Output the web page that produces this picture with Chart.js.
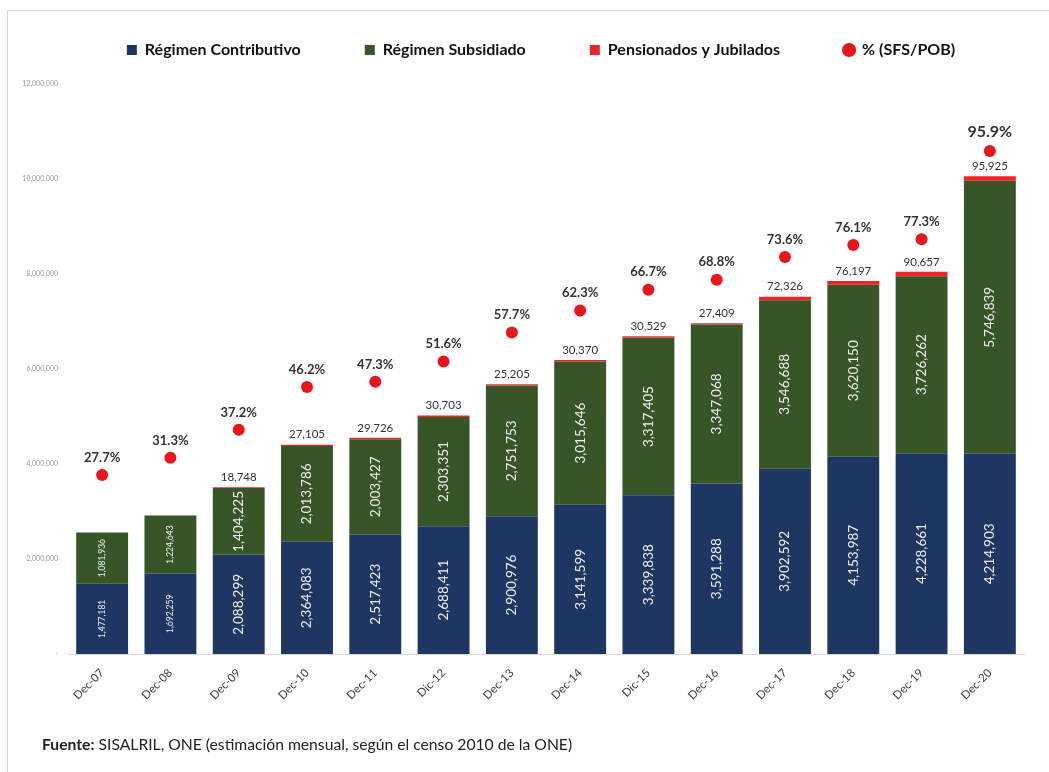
<!DOCTYPE html>
<html><head><meta charset="utf-8">
<script src="https://cdn.jsdelivr.net/npm/chart.js@4.4.1/dist/chart.umd.min.js"></script>
<style>
html,body{margin:0;padding:0;background:#fff;}
#wrap{position:relative;width:1049px;height:772px;overflow:hidden;}
#frame{position:absolute;left:7px;top:10px;width:1042px;height:762px;border-left:1px solid #d9d9d9;border-top:1px solid #d9d9d9;}
canvas{position:absolute;left:0;top:0;}
#foot{position:absolute;left:42px;top:735px;font-family:Lato, "Open Sans", sans-serif;font-size:15.7px;color:#222;white-space:nowrap;}
</style></head><body>
<div id="wrap"><div id="frame"></div><canvas id="c" width="1049" height="772"></canvas>
<div id="foot"><b>Fuente:</b> SISALRIL, ONE (estimación mensual, según el censo 2010 de la ONE)</div></div>
<script>
const categories = ['Dec-07','Dec-08','Dec-09','Dec-10','Dec-11','Dic-12','Dec-13','Dec-14','Dic-15','Dec-16','Dec-17','Dec-18','Dec-19','Dec-20'];
const contributivo = [1477181,1692259,2088299,2364083,2517423,2688411,2900976,3141599,3339838,3591288,3902592,4153987,4228661,4214903];
const subsidiado = [1081936,1224643,1404225,2013786,2003427,2303351,2751753,3015646,3317405,3347068,3546688,3620150,3726262,5746839];
const pensionados = [0,0,18748,27105,29726,30703,25205,30370,30529,27409,72326,76197,90657,95925];
const porcentaje = [27.7,31.3,37.2,46.2,47.3,51.6,57.7,62.3,66.7,68.8,73.6,76.1,77.3,95.9];
const seriesNames = ['Régimen Contributivo','Régimen Subsidiado','Pensionados y Jubilados','% (SFS/POB)'];

const FONT = 'Lato, "Open Sans", sans-serif';
const fmt = v => v.toLocaleString('en-US');

const labelPlugin = {
  id: 'labels',
  beforeLayout(chart) {
    const lg = chart.legend;
    if (lg && !lg._patched) {
      const f = lg.fit.bind(lg);
      lg.fit = function () { f(); this.height = 84; };
      lg._patched = true;
    }
  },
  afterLayout(chart) {
    const lg = chart.legend;
    if (lg) {
      lg.top -= 22; lg.bottom -= 22;
      lg.left += 33;
    }
  },
  afterDatasetsDraw(chart) {
    const ctx = chart.ctx;
    ctx.save();
    [0, 1].forEach(di => {
      const meta = chart.getDatasetMeta(di);
      const data = chart.data.datasets[di].data;
      meta.data.forEach((el, i) => {
        const cy = (el.y + el.base) / 2;
        const size = i < 2 ? 8.5 : 13.5;
        ctx.save();
        ctx.translate(el.x, cy);
        ctx.rotate(-Math.PI / 2);
        ctx.font = size + 'px ' + FONT;
        ctx.fillStyle = '#f2f2f2';
        ctx.textAlign = 'center';
        ctx.textBaseline = 'middle';
        ctx.fillText(fmt(data[i]), 0, 0);
        ctx.restore();
      });
    });
    const m2 = chart.getDatasetMeta(2);
    m2.data.forEach((el, i) => {
      const v = chart.data.datasets[2].data[i];
      if (!v) return;
      ctx.font = '11.5px ' + FONT;
      ctx.fillStyle = '#333';
      ctx.textAlign = 'center';
      ctx.textBaseline = 'middle';
      ctx.fillText(fmt(v), el.x, el.y - 10);
    });
    const m3 = chart.getDatasetMeta(3);
    m3.data.forEach((el, i) => {
      const v = chart.data.datasets[3].data[i];
      const size = i === m3.data.length - 1 ? 16 : 13;
      ctx.font = 'bold ' + size + 'px ' + FONT;
      ctx.fillStyle = '#333';
      ctx.textAlign = 'center';
      ctx.textBaseline = 'middle';
      ctx.fillText(v.toFixed(1) + '%', el.x, el.y - (9 + size * 0.65));
    });
    ctx.restore();
  }
};

new Chart(document.getElementById('c'), {
  data: {
    labels: categories,
    datasets: [
      { type: 'bar', label: seriesNames[0], data: contributivo, backgroundColor: '#1d3762', stack: 's', yAxisID: 'y', order: 2, pointStyle: 'rect', borderWidth: 0 },
      { type: 'bar', label: seriesNames[1], data: subsidiado, backgroundColor: '#385527', stack: 's', yAxisID: 'y', order: 2, pointStyle: 'rect', borderWidth: 0 },
      { type: 'bar', label: seriesNames[2], data: pensionados, backgroundColor: '#f42323', stack: 's', yAxisID: 'y', order: 2, pointStyle: 'rect', borderWidth: 0 },
      { type: 'line', label: seriesNames[3], data: porcentaje, yAxisID: 'y2', showLine: false, pointRadius: 6, pointHoverRadius: 6, pointStyle: 'circle', backgroundColor: '#e8161c', borderColor: '#e8161c', borderWidth: 0, order: 0 }
    ]
  },
  options: {
    responsive: false,
    animation: false,
    devicePixelRatio: 1,
    layout: { padding: { top: 0, left: 0, right: 0, bottom: 58 } },
    datasets: { bar: { categoryPercentage: 1, barPercentage: 0.76 } },
    plugins: {
      legend: {
        position: 'top',
        labels: {
          usePointStyle: true, boxWidth: 10, boxHeight: 10, padding: 64,
          sort: (a, b) => a.datasetIndex - b.datasetIndex,
          color: '#111', font: { family: FONT, size: 16, weight: 'bold' }
        }
      },
      tooltip: { enabled: false }
    },
    scales: {
      x: {
        stacked: true,
        grid: { display: false, drawTicks: false },
        border: { display: true, color: '#d9d9d9' },
        ticks: { minRotation: 45, maxRotation: 45, padding: 12, color: '#404040', font: { family: FONT, size: 11.5 } },
        afterFit: s => { s.height = 60; }
      },
      y: {
        stacked: true, min: 0, max: 12000000,
        grid: { display: false, drawTicks: false },
        border: { display: false },
        ticks: { stepSize: 2000000, padding: 10, color: '#9a9a9a', font: { family: FONT, size: 7 },
          callback: v => v === 0 ? '-' : fmt(v) },
        afterFit: s => { s.width = 68; }
      },
      y2: {
        position: 'right', min: -10, max: 110, display: true,
        grid: { display: false, drawTicks: false },
        border: { display: false },
        ticks: { display: false },
        afterFit: s => { s.width = 25; }
      }
    }
  },
  plugins: [labelPlugin]
});
</script>
</body></html>
